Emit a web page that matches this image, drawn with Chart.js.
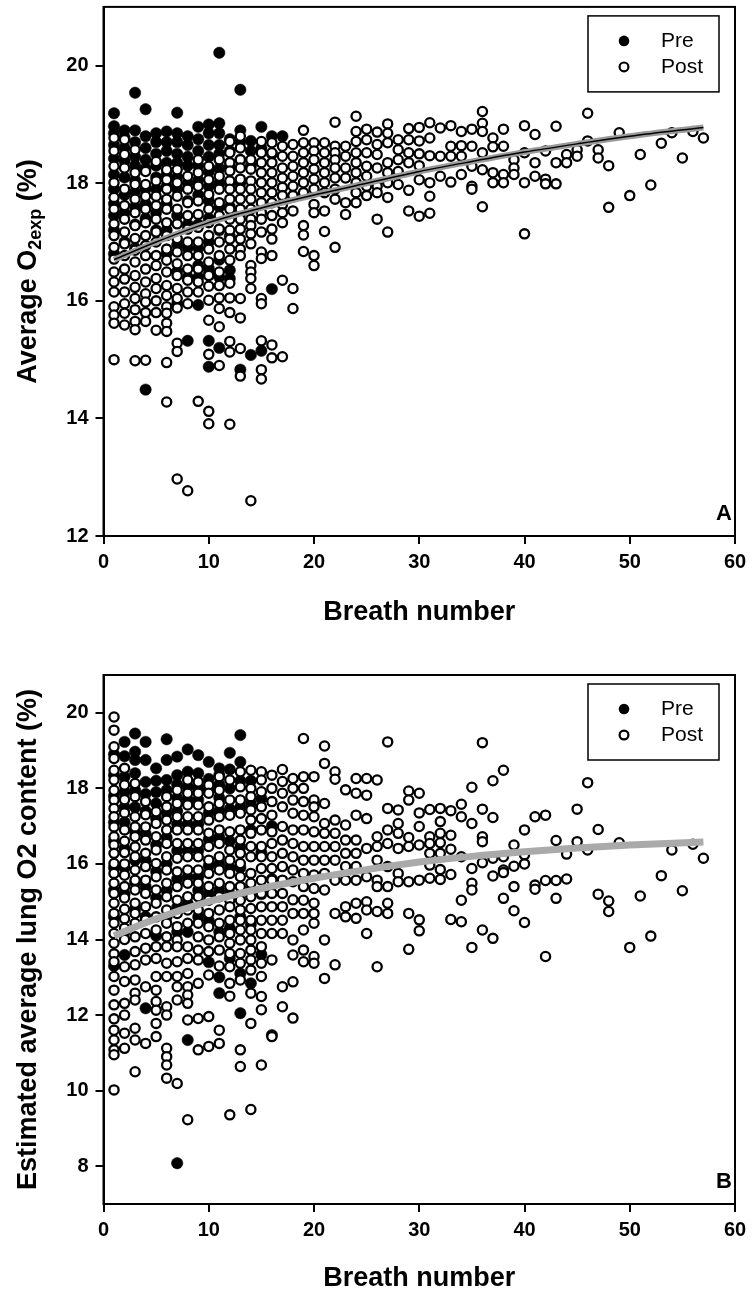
<!DOCTYPE html>
<html>
<head>
<meta charset="utf-8">
<script src="https://cdn.jsdelivr.net/npm/chart.js@4.4.0/dist/chart.umd.min.js"></script>
<style>
  body { margin: 0; background: #fff; }
  canvas { display: block; }
</style>
</head>
<body>
<canvas id="chartA" width="756" height="650"></canvas>
<canvas id="chartB" width="756" height="649"></canvas>
<script>
// Ejes y marcas
const xTicks = [0, 10, 20, 30, 40, 50, 60];
const yTicksA = [12, 14, 16, 18, 20];
const yTicksB = [8, 10, 12, 14, 16, 18, 20];

// Panel A - Pre (puntos negros): [respiración, [valores]]
const preA = [
  [1, [19.19, 18.97, 18.85, 18.65, 18.42, 18.15, 17.9, 17.65, 17.45, 17.2, 16.8]],
  [2, [18.9, 18.78, 18.6, 18.38, 18.1, 17.8, 17.5, 17.0]],
  [3, [19.54, 18.9, 18.7, 18.45, 18.3, 18.05, 17.85, 17.6, 17.3, 16.9]],
  [4, [19.26, 18.8, 18.6, 18.4, 18.25, 17.9, 17.65, 17.4, 14.49]],
  [5, [18.85, 18.7, 18.5, 18.3, 18.1, 17.9, 17.5, 17.2]],
  [6, [18.88, 18.7, 18.55, 18.35, 18.15, 17.95, 17.65, 17.2, 16.8]],
  [7, [19.2, 18.85, 18.7, 18.5, 18.35, 18.1, 17.9, 17.45, 16.95, 16.5, 15.95]],
  [8, [18.8, 18.65, 18.45, 18.3, 18.0, 17.7, 17.3, 16.9, 16.4, 15.32]],
  [9, [18.96, 18.75, 18.55, 18.3, 18.05, 17.8, 17.3, 16.9, 16.6, 16.4, 15.93]],
  [10, [19.0, 18.85, 18.65, 18.45, 18.2, 17.95, 17.7, 17.4, 17.0, 16.55, 16.45, 15.32, 14.88]],
  [11, [20.22, 19.02, 18.85, 18.65, 18.5, 18.25, 18.0, 17.6, 17.2, 16.7, 16.4, 15.2]],
  [12, [18.75, 18.55, 18.3, 18.0, 17.6, 17.1, 16.52, 16.38]],
  [13, [19.59, 18.9, 18.7, 18.4, 18.0, 17.5, 14.83]],
  [14, [18.72, 18.55, 18.3, 15.08]],
  [15, [18.96, 18.6, 15.15]],
  [16, [18.8, 18.5, 16.2]],
  [17, [18.8]]
];

// Panel A - Post (círculos abiertos)
const postA = [
  [1, [18.77, 18.55, 18.29, 18.01, 17.76, 17.56, 17.31, 17.11, 16.91, 16.71, 16.49, 16.32, 16.15, 15.9, 15.76, 15.62, 15.0]],
  [2, [18.74, 18.49, 18.26, 17.9, 17.62, 17.39, 17.17, 16.97, 16.77, 16.54, 16.37, 16.15, 15.95, 15.79, 15.59]],
  [3, [18.57, 18.18, 17.98, 17.73, 17.5, 17.28, 17.06, 16.86, 16.66, 16.43, 16.23, 16.04, 15.85, 15.65, 15.51, 14.98]],
  [4, [18.2, 17.98, 17.78, 17.56, 17.33, 17.11, 16.94, 16.77, 16.54, 16.32, 16.12, 15.98, 15.8, 15.65, 14.99]],
  [5, [18.37, 18.04, 17.78, 17.62, 17.39, 17.17, 17.0, 16.77, 16.6, 16.38, 16.21, 16.0, 15.8, 15.5]],
  [6, [18.23, 18.06, 17.9, 17.73, 17.56, 17.33, 17.11, 16.88, 16.69, 16.49, 16.26, 16.09, 15.9, 15.79, 15.62, 15.48, 14.95, 14.28]],
  [7, [18.23, 18.01, 17.78, 17.56, 17.31, 17.06, 16.83, 16.63, 16.43, 16.21, 16.04, 15.88, 15.28, 15.14, 12.97]],
  [8, [18.12, 17.9, 17.67, 17.45, 17.22, 17.0, 16.77, 16.54, 16.35, 16.15, 15.95, 12.77]],
  [9, [18.4, 18.18, 17.95, 17.7, 17.47, 17.25, 17.0, 16.77, 16.54, 16.32, 16.15, 14.29]],
  [10, [18.29, 18.06, 17.81, 17.56, 17.33, 17.11, 16.88, 16.66, 16.43, 16.25, 16.01, 15.67, 15.09, 14.12, 13.91]],
  [11, [18.4, 18.12, 17.9, 17.67, 17.45, 17.22, 17.0, 16.77, 16.49, 16.26, 16.05, 15.87, 15.56, 14.9]],
  [12, [18.71, 18.52, 18.35, 18.21, 18.04, 17.9, 17.73, 17.56, 17.39, 17.2, 17.05, 16.88, 16.69, 16.3, 16.05, 15.8, 15.31, 15.13, 13.9]],
  [13, [18.8, 18.6, 18.4, 18.26, 18.07, 17.9, 17.73, 17.56, 17.39, 17.22, 17.05, 16.88, 16.77, 16.04, 15.71, 15.19, 14.72]],
  [14, [18.4, 18.24, 18.04, 17.9, 17.73, 17.56, 17.39, 17.28, 17.14, 16.97, 16.6, 16.49, 16.38, 16.21, 12.6]],
  [15, [18.71, 18.52, 18.35, 18.18, 18.01, 17.84, 17.67, 17.5, 17.39, 17.17, 16.83, 16.72, 16.04, 15.95, 15.32, 14.83, 14.67]],
  [16, [18.69, 18.52, 18.35, 18.18, 18.01, 17.84, 17.67, 17.45, 17.22, 17.05, 16.77, 15.25, 15.03]],
  [17, [18.63, 18.46, 18.26, 18.09, 17.93, 17.79, 17.64, 17.5, 17.33, 16.35, 15.05]],
  [18, [18.66, 18.46, 18.29, 18.12, 17.95, 17.79, 17.53, 16.21, 15.87]],
  [19, [18.9, 18.69, 18.52, 18.35, 18.18, 18.01, 17.84, 17.28, 17.12, 16.84]],
  [20, [18.69, 18.55, 18.4, 18.24, 18.07, 17.9, 17.64, 17.5, 16.77, 16.6]],
  [21, [18.69, 18.52, 18.35, 18.18, 18.01, 17.84, 17.53, 17.18]],
  [22, [19.04, 18.63, 18.52, 18.4, 18.26, 18.09, 17.9, 17.73, 16.91]],
  [23, [18.63, 18.46, 18.26, 18.09, 17.67, 17.47]],
  [24, [19.14, 18.88, 18.71, 18.52, 18.35, 18.18, 18.01, 17.84, 17.67]],
  [25, [18.92, 18.74, 18.52, 18.29, 18.12, 17.95, 17.79]],
  [26, [18.87, 18.66, 18.49, 18.26, 17.95, 17.84, 17.39]],
  [27, [19.01, 18.85, 18.69, 18.35, 18.18, 18.01, 17.76, 17.17]],
  [28, [18.74, 18.57, 18.4, 18.2, 17.98]],
  [29, [18.93, 18.74, 18.52, 18.35, 17.88, 17.53]],
  [30, [18.95, 18.72, 18.5, 18.3, 18.06, 17.44]],
  [31, [19.03, 18.77, 18.47, 18.01, 17.78, 17.49]],
  [32, [18.94, 18.46, 18.12]],
  [33, [18.98, 18.63, 18.46, 18.02]],
  [34, [18.88, 18.64, 18.46, 18.15]],
  [35, [18.92, 18.63, 18.29, 17.95, 17.9]],
  [36, [19.22, 19.02, 18.88, 18.52, 18.23, 17.6]],
  [37, [18.77, 18.62, 18.18, 18.01]],
  [38, [18.92, 18.63, 18.15, 18.01]],
  [39, [18.4, 18.26, 18.15]],
  [40, [18.98, 18.52, 18.01, 17.14]],
  [41, [18.83, 18.35, 18.12]],
  [42, [18.55, 18.07, 17.99]],
  [43, [18.97, 18.35, 17.99]],
  [44, [18.49, 18.35]],
  [45, [18.57, 18.46]],
  [46, [19.19, 18.72]],
  [47, [18.57, 18.43]],
  [48, [18.3, 17.59]],
  [49, [18.86]],
  [50, [17.79]],
  [51, [18.49]],
  [52, [17.97]],
  [53, [18.68]],
  [54, [18.86]],
  [55, [18.43]],
  [56, [18.88]],
  [57, [18.77]]
];

// Panel B - Pre
const preB = [
  [1, [18.9, 18.35, 17.8, 17.1, 16.6, 15.9, 15.3, 14.6, 13.3]],
  [2, [19.23, 18.85, 18.3, 17.9, 17.5, 17.1, 16.4, 15.9, 15.2, 14.2, 13.59]],
  [3, [19.45, 18.97, 18.75, 18.4, 17.95, 17.5, 16.85, 16.1, 15.5, 14.8]],
  [4, [19.23, 18.75, 18.17, 17.85, 17.4, 16.8, 16.1, 15.4, 14.6, 12.18]],
  [5, [18.53, 18.2, 17.9, 17.6, 17.2, 16.5, 15.8, 15.1, 14.1]],
  [6, [19.3, 18.75, 18.22, 17.95, 17.35, 16.7, 16.0, 15.3, 14.6]],
  [7, [18.84, 18.35, 18.1, 17.75, 17.4, 17.05, 16.35, 15.6, 14.85, 14.2, 8.08]],
  [8, [19.03, 18.44, 18.05, 17.7, 17.05, 16.35, 15.65, 14.95, 14.2, 11.34]],
  [9, [18.88, 18.4, 18.0, 17.7, 17.05, 16.35, 15.65, 15.3, 14.6]],
  [10, [18.7, 18.25, 17.95, 17.35, 16.65, 15.95, 15.2, 14.5, 13.4]],
  [11, [18.53, 18.35, 18.1, 17.75, 17.4, 16.7, 16.0, 15.3, 14.2, 13.0, 12.58]],
  [12, [18.94, 18.5, 18.0, 17.45, 16.6, 15.9, 15.2, 14.3, 13.5]],
  [13, [19.41, 18.7, 18.2, 17.5, 16.45, 15.9, 14.6, 13.1, 12.05]],
  [14, [18.2, 17.6, 16.9, 15.3, 14.4, 12.84]],
  [15, [17.73, 16.3, 15.2, 13.6]],
  [16, [17.0, 15.6, 11.47]]
];

// Panel B - Post
const postB = [
  [1, [19.89, 19.54, 19.1, 18.79, 18.48, 18.22, 17.95, 17.69, 17.47, 17.25, 16.98, 16.72, 16.5, 16.28, 16.01, 15.75, 15.49, 15.22, 14.96, 14.69, 14.43, 14.16, 13.9, 13.62, 13.41, 13.02, 12.66, 12.27, 11.9, 11.6, 11.34, 11.08, 10.95, 10.02]],
  [2, [18.53, 18.09, 17.7, 17.35, 16.9, 16.6, 16.3, 16.0, 15.7, 15.4, 15.1, 14.8, 14.55, 14.3, 14.0, 13.28, 12.89, 12.31, 12.0, 11.52, 11.12]],
  [3, [18.13, 17.78, 17.25, 16.98, 16.72, 16.45, 16.19, 15.84, 15.57, 15.31, 14.96, 14.69, 14.43, 14.07, 13.68, 13.33, 12.93, 12.58, 12.4, 11.65, 11.34, 10.5]],
  [4, [17.65, 17.3, 16.98, 16.63, 16.28, 15.93, 15.57, 15.22, 14.87, 14.52, 14.16, 13.77, 13.46, 12.75, 11.25]],
  [5, [17.38, 17.07, 16.72, 16.37, 16.01, 15.66, 15.31, 14.96, 14.6, 14.25, 13.81, 13.5, 13.02, 12.66, 12.36, 12.13, 11.78, 11.43]],
  [6, [17.78, 17.51, 17.16, 16.9, 16.54, 16.19, 15.84, 15.49, 15.13, 14.78, 14.43, 14.07, 13.81, 13.37, 13.02, 12.22, 12.0, 11.12, 10.9, 10.68, 10.33]],
  [7, [17.95, 17.6, 17.25, 16.9, 16.54, 16.15, 15.79, 15.4, 15.04, 14.69, 14.34, 13.99, 13.81, 13.41, 13.02, 12.75, 12.4, 10.19]],
  [8, [18.22, 17.87, 17.56, 17.25, 16.9, 16.54, 16.19, 15.84, 15.49, 15.13, 14.78, 14.43, 13.81, 13.5, 13.1, 12.75, 12.53, 12.31, 11.87, 9.23]],
  [9, [18.17, 17.87, 17.56, 17.25, 16.9, 16.54, 16.19, 15.84, 15.49, 15.13, 14.78, 14.43, 14.07, 13.72, 13.46, 12.84, 11.91, 11.08]],
  [10, [18.09, 17.87, 17.51, 17.16, 16.81, 16.46, 16.1, 15.75, 15.4, 15.04, 14.69, 14.34, 13.99, 13.68, 13.06, 11.96, 11.17]],
  [11, [18.31, 17.95, 17.6, 17.25, 16.9, 16.54, 16.19, 15.84, 15.49, 15.13, 14.78, 14.43, 14.07, 13.72, 13.3, 11.6, 11.25]],
  [12, [18.22, 17.69, 17.29, 16.85, 16.37, 16.1, 15.75, 15.4, 15.04, 14.87, 14.51, 14.16, 13.9, 13.63, 13.28, 12.84, 12.5, 9.36]],
  [13, [18.44, 18.04, 17.69, 17.34, 16.9, 16.63, 16.28, 16.01, 15.66, 15.4, 15.04, 14.78, 14.51, 14.25, 13.99, 13.63, 13.37, 12.93, 11.08, 10.64]],
  [14, [18.48, 18.0, 17.78, 17.43, 17.16, 16.81, 16.46, 16.19, 15.75, 15.49, 15.13, 14.82, 14.51, 14.25, 13.99, 13.72, 13.46, 13.19, 12.58, 11.78, 9.5]],
  [15, [18.44, 18.22, 17.91, 17.51, 17.2, 16.9, 16.46, 16.19, 15.88, 15.57, 15.22, 14.87, 14.51, 14.16, 13.81, 13.37, 13.02, 12.49, 12.14, 10.68]],
  [16, [18.35, 18.0, 17.65, 17.29, 16.85, 16.54, 16.19, 15.88, 15.57, 15.22, 14.87, 14.51, 14.16, 13.46, 11.43]],
  [17, [18.5, 18.18, 17.87, 17.51, 16.99, 16.63, 16.28, 15.93, 15.57, 15.22, 14.87, 14.51, 14.16, 12.75, 12.22]],
  [18, [18.26, 18.0, 17.69, 17.34, 16.9, 16.54, 16.19, 15.84, 15.53, 15.05, 14.69, 13.99, 13.59, 12.88, 11.92]],
  [19, [19.32, 18.31, 18.0, 17.65, 17.29, 16.9, 16.46, 16.1, 15.75, 15.4, 15.04, 14.69, 14.25, 13.72, 13.41]],
  [20, [18.31, 17.69, 17.51, 17.25, 16.85, 16.46, 16.1, 15.71, 15.35, 14.96, 14.69, 14.43, 13.55, 13.37]],
  [21, [19.12, 18.66, 17.6, 17.07, 16.81, 16.46, 16.1, 15.75, 15.31, 13.99, 12.97]],
  [22, [18.44, 18.24, 17.16, 16.81, 16.46, 16.1, 15.57, 14.69, 13.33]],
  [23, [17.96, 17.03, 16.63, 16.28, 15.93, 15.57, 14.87, 14.6]],
  [24, [18.26, 17.87, 17.29, 16.63, 16.28, 15.93, 15.57, 14.96, 14.56]],
  [25, [18.26, 17.82, 17.2, 16.41, 15.66, 15.0, 14.78, 14.16]],
  [26, [18.22, 16.72, 16.46, 16.1, 15.57, 15.4, 14.74, 13.28]],
  [27, [19.23, 17.47, 16.9, 16.54, 15.93, 15.4, 14.96, 14.69]],
  [28, [17.43, 17.07, 16.81, 16.41, 15.75, 15.53]],
  [29, [17.93, 17.69, 16.7, 16.46, 15.53, 14.69, 13.74]],
  [30, [17.87, 17.35, 16.99, 16.5, 15.57, 14.52, 14.23]],
  [31, [17.44, 16.72, 16.54, 16.28, 15.97, 15.62]],
  [32, [17.47, 17.12, 16.81, 16.56, 16.28, 15.85, 15.59]],
  [33, [17.41, 16.76, 16.39, 15.72, 14.53]],
  [34, [17.58, 17.25, 16.19, 15.04, 14.47]],
  [35, [18.03, 17.07, 15.88, 15.49, 15.31, 13.79]],
  [36, [19.21, 17.45, 16.72, 16.59, 16.03, 14.25]],
  [37, [18.2, 17.23, 16.15, 15.68, 14.03]],
  [38, [18.48, 16.19, 15.84, 15.77, 15.09]],
  [39, [16.5, 15.94, 15.4, 14.76]],
  [40, [16.9, 16.24, 16.0, 14.45]],
  [41, [17.25, 15.44, 15.33]],
  [42, [17.29, 15.56, 13.55]],
  [43, [16.62, 15.56, 15.09]],
  [44, [16.26, 15.6]],
  [45, [17.45, 16.59]],
  [46, [18.15, 16.37]],
  [47, [16.91, 15.2]],
  [48, [15.02, 14.74]],
  [49, [16.56]],
  [50, [13.79]],
  [51, [15.15]],
  [52, [14.09]],
  [53, [15.69]],
  [54, [16.37]],
  [55, [15.29]],
  [56, [16.52]],
  [57, [16.15]]
];

// Curvas de ajuste
const fitX = [1, 5, 10, 15, 20, 25, 30, 35, 40, 45, 50, 57];
const fitA = [16.70, 17.0, 17.33, 17.58, 17.8, 18.0, 18.2, 18.37, 18.53, 18.67, 18.8, 18.95];
const fitB = [14.1, 14.55, 15.0, 15.35, 15.62, 15.85, 16.05, 16.2, 16.32, 16.42, 16.5, 16.58];

const FONT = '"Liberation Sans", Arial, sans-serif';

// Pasar columnas a puntos {x, y}
function toPoints(cols) {
  const pts = [];
  cols.forEach(([x, ys]) => ys.forEach(y => pts.push({ x: x, y: y })));
  return pts;
}
function fitPoints(ys) {
  return fitX.map((x, i) => ({ x: x, y: ys[i] }));
}

// Marco, título del eje Y, leyenda y letra del panel
const decorPlugin = {
  id: 'decor',
  afterDraw(chart, args, opts) {
    const ctx = chart.ctx;
    const a = chart.chartArea;
    ctx.save();
    ctx.strokeStyle = '#000';
    ctx.lineWidth = 2;
    ctx.strokeRect(a.left, a.top, a.right - a.left, a.bottom - a.top);

    // leyenda
    const bx = a.right - 147, by = a.top + 9, bw = 131, bh = 76;
    ctx.lineWidth = 1.5;
    ctx.strokeRect(bx, by, bw, bh);
    ctx.fillStyle = '#000';
    ctx.beginPath();
    ctx.arc(bx + 36, by + 25, 5.3, 0, Math.PI * 2);
    ctx.fill();
    ctx.beginPath();
    ctx.arc(bx + 36, by + 51, 4.4, 0, Math.PI * 2);
    ctx.fillStyle = '#fff';
    ctx.fill();
    ctx.lineWidth = 2.2;
    ctx.stroke();
    ctx.fillStyle = '#000';
    ctx.font = '21px ' + FONT;
    ctx.textBaseline = 'middle';
    ctx.textAlign = 'left';
    ctx.fillText('Pre', bx + 73, by + 25);
    ctx.fillText('Post', bx + 73, by + 51);

    // letra del panel
    ctx.font = 'bold 22px ' + FONT;
    ctx.textAlign = 'center';
    ctx.fillText(opts.letter, a.right - 11, a.bottom - 22);

    // título del eje Y (con subíndice si hace falta)
    ctx.translate(29, (a.top + a.bottom) / 2);
    ctx.rotate(-Math.PI / 2);
    let total = 0;
    opts.title.forEach(p => {
      ctx.font = 'bold ' + p.size + 'px ' + FONT;
      total += ctx.measureText(p.text).width;
    });
    let x = -total / 2;
    ctx.textAlign = 'left';
    opts.title.forEach(p => {
      ctx.font = 'bold ' + p.size + 'px ' + FONT;
      ctx.fillText(p.text, x, p.dy || 0);
      x += ctx.measureText(p.text).width;
    });
    ctx.restore();
  }
};

function crearPanel(id, pre, post, fit, yMin, yMax, yTicks, layout, letter, title) {
  const datasets = [];
  if (id === 'chartA') {
    datasets.push({
      type: 'line', data: fitPoints(fit), borderColor: '#000', borderWidth: 1.5,
      pointRadius: 0, cubicInterpolationMode: 'monotone', order: 0
    });
  }
  datasets.push({
    type: 'line', data: fitPoints(fit), borderColor: id === 'chartA' ? '#9a9a9a' : '#aaaaaa',
    borderWidth: id === 'chartA' ? 6 : 7, pointRadius: 0, cubicInterpolationMode: 'monotone', order: 1
  });
  datasets.push({
    label: 'Post', data: toPoints(post), pointRadius: 4.6, pointBorderWidth: 2.3,
    pointBackgroundColor: '#fff', pointBorderColor: '#000', order: 2
  });
  datasets.push({
    label: 'Pre', data: toPoints(pre), pointRadius: 5.7, pointBorderWidth: 0.5,
    pointBackgroundColor: '#000', pointBorderColor: '#000', order: 3
  });

  new Chart(document.getElementById(id), {
    type: 'scatter',
    data: { datasets: datasets },
    options: {
      responsive: false,
      animation: false,
      devicePixelRatio: 1,
      layout: { padding: { left: 0, right: 21, top: layout.top, bottom: 0 } },
      plugins: {
        legend: { display: false },
        tooltip: { enabled: false },
        decor: { letter: letter, title: title }
      },
      scales: {
        x: {
          type: 'linear', min: 0, max: 60,
          afterBuildTicks: s => { s.ticks = xTicks.map(v => ({ value: v })); },
          afterFit: s => { s.height = layout.xHeight; s.paddingLeft = 0; s.paddingRight = 0; },
          grid: { drawOnChartArea: false, drawTicks: true, tickLength: 8, color: '#000', lineWidth: 2 },
          border: { display: true, color: '#000', width: 2 },
          ticks: { autoSkip: false, maxRotation: 0, padding: 6, color: '#000', font: { family: FONT, size: 20, weight: 'bold' } },
          title: { display: true, text: 'Breath number', color: '#000', padding: { top: 0, bottom: layout.titlePad }, font: { family: FONT, size: 27, weight: 'bold' } }
        },
        y: {
          type: 'linear', min: yMin, max: yMax,
          afterBuildTicks: s => { s.ticks = yTicks.map(v => ({ value: v })); },
          afterFit: s => { s.width = 103.5; s.paddingTop = 0; s.paddingBottom = 0; },
          grid: { drawOnChartArea: false, drawTicks: true, tickLength: 8, color: '#000', lineWidth: 2 },
          border: { display: true, color: '#000', width: 2 },
          ticks: { padding: 7, color: '#000', font: { family: FONT, size: 20, weight: 'bold' } }
        }
      }
    },
    plugins: [decorPlugin]
  });
}

document.addEventListener('DOMContentLoaded', () => {
  crearPanel('chartA', preA, postA, fitA, 12, 21, yTicksA,
    { top: 3, xHeight: 114, titlePad: 21 }, 'A',
    [{ text: 'Average O', size: 27 }, { text: '2exp', size: 18, dy: 7 }, { text: ' (%)', size: 27 }]);
  crearPanel('chartB', preB, postB, fitB, 7, 21, yTicksB,
    { top: 25, xHeight: 95, titlePad: 4 }, 'B',
    [{ text: 'Estimated average lung O2 content (%)', size: 27 }]);
});
</script>
</body>
</html>
